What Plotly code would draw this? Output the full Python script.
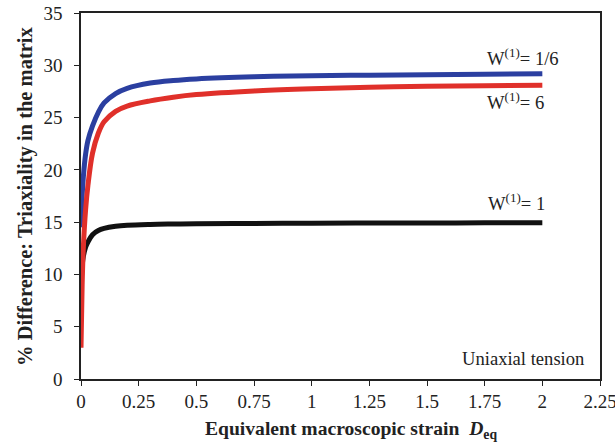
import plotly.graph_objects as go

strain = [0, 0.005, 0.01, 0.02, 0.03, 0.05, 0.075, 0.1, 0.15, 0.2, 0.3, 0.4, 0.5, 0.75, 1.0, 1.25, 1.5, 1.75, 2.0]
w_1_6 = [14.5, 17.5, 19.3, 21.5, 22.8, 24.2, 25.5, 26.4, 27.3, 27.8, 28.3, 28.55, 28.7, 28.9, 29.0, 29.05, 29.1, 29.15, 29.2]
w_6 = [3.0, 9.0, 12.5, 16.2, 18.5, 21.6, 23.5, 24.6, 25.6, 26.1, 26.6, 26.95, 27.2, 27.55, 27.75, 27.9, 28.0, 28.05, 28.1]
w_1 = [9.0, 10.8, 11.7, 12.6, 13.1, 13.8, 14.2, 14.4, 14.6, 14.7, 14.78, 14.82, 14.85, 14.88, 14.9, 14.91, 14.92, 14.93, 14.94]

labels = ["W<sup>(1)</sup>= 1/6", "W<sup>(1)</sup>= 6", "W<sup>(1)</sup>= 1"]
x_ticks = [0, 0.25, 0.5, 0.75, 1, 1.25, 1.5, 1.75, 2, 2.25]
x_ticktext = ["0", "0.25", "0.5", "0.75", "1", "1.25", "1.5", "1.75", "2", "2.25"]
y_ticks = [0, 5, 10, 15, 20, 25, 30, 35]

FONT = "Liberation Serif"
TXT = "#222222"

fig = go.Figure()
fig.add_trace(go.Scatter(x=strain, y=w_1, mode="lines", line=dict(color="#111111", width=5, shape="spline"), name="W=1"))
fig.add_trace(go.Scatter(x=strain, y=w_1_6, mode="lines", line=dict(color="#2b3fa0", width=5, shape="spline"), name="W=1/6"))
fig.add_trace(go.Scatter(x=strain, y=w_6, mode="lines", line=dict(color="#e0302a", width=5, shape="spline"), name="W=6"))

ann = dict(showarrow=False, xanchor="left", yanchor="middle", font=dict(family=FONT, size=18.6, color=TXT))
fig.add_annotation(x=1.75, y=30.8, text=labels[0], **ann)
fig.add_annotation(x=1.75, y=26.6, text=labels[1], **ann)
fig.add_annotation(x=1.754, y=16.9, text=labels[2], **ann)
fig.add_annotation(x=1.645, y=2.0, text="Uniaxial tension", **ann)

# axis titles
fig.add_annotation(xref="paper", yref="paper", x=0.52, y=-0.138, xanchor="center", yanchor="middle",
                   showarrow=False, text="<b>Equivalent macroscopic strain  <i>D</i><sub>eq</sub></b>",
                   font=dict(family=FONT, size=19.6, color=TXT))
fig.add_annotation(xref="paper", yref="paper", x=-0.108, y=0.50, xanchor="center", yanchor="middle",
                   showarrow=False, textangle=-90, text="<b>% Difference: Triaxiality in the matrix</b>",
                   font=dict(family=FONT, size=20.5, color=TXT))

fig.update_layout(
    width=615, height=445,
    margin=dict(l=81, r=15, t=13, b=66),
    plot_bgcolor="white", paper_bgcolor="white",
    showlegend=False,
    font=dict(family=FONT, size=19, color=TXT),
    xaxis=dict(
        range=[0, 2.25], tickvals=x_ticks, ticktext=x_ticktext,
        showgrid=False, zeroline=False, automargin=False,
        showline=True, linecolor=TXT, linewidth=1.5, mirror=True,
        ticks="outside", ticklen=5, tickwidth=1.2, tickcolor=TXT,
        tickfont=dict(family=FONT, size=19), ticklabelstandoff=-1,
        ticklabeloverflow="allow",
    ),
    yaxis=dict(
        range=[0, 35], tickvals=y_ticks,
        showgrid=False, zeroline=False, automargin=False,
        showline=True, linecolor=TXT, linewidth=1.5, mirror=True,
        ticks="outside", ticklen=5, tickwidth=1.2, tickcolor=TXT,
        tickfont=dict(family=FONT, size=19), ticklabelstandoff=8,
        ticklabeloverflow="allow",
    ),
)

fig.write_html("out.html", config={"displayModeBar": False},
               post_script="document.body.style.margin='0';")
